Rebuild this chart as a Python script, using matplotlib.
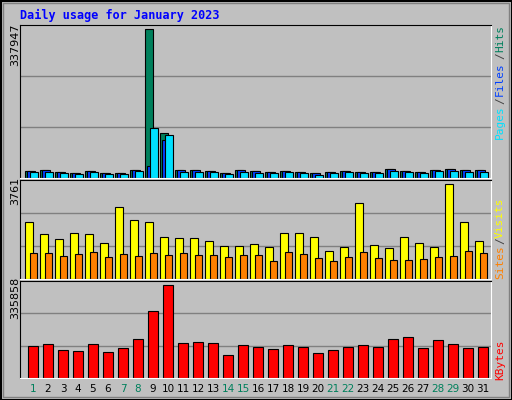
import matplotlib
matplotlib.use("Agg")
import matplotlib.pyplot as plt
from matplotlib.patches import Rectangle

days = list(range(1, 32))
hits = [16800,19100,14500,12200,16800,12200,12200,19100,337947,101700,19100,19100,16800,12200,19100,16800,
        14500,16800,14500,12200,14500,16800,14500,14500,21400,16800,14500,19100,21400,19100,19100]
files = [15000,17200,13000,11000,15000,11000,11000,17200,26800,85600,17200,17200,15000,11000,17200,15000,
         13000,15000,13000,11000,13000,15000,13000,13000,19300,15000,13000,17200,19300,17200,17200]
pages = [13000,14500,11500,9200,13000,8400,9200,16000,113200,97100,14500,14500,13000,8400,14500,11500,
         10700,13000,10700,7600,11500,13000,11500,11500,16800,13000,10700,16000,16800,14500,14500]
visits = [2260,1770,1570,1810,1770,1440,2830,2340,2260,1640,1600,1600,1520,1320,1320,1400,
          1280,1810,1810,1640,1110,1280,3000,1360,1240,1640,1440,1280,3761,2260,1520]
sites = [1030,1030,910,990,1070,870,990,910,1030,950,1030,950,950,870,950,950,
         710,1070,990,830,710,870,1070,830,750,750,790,870,910,1110,1030]
kbytes = [115000,122600,100500,96800,122600,93100,107800,140900,240100,335858,126300,129900,126300,82100,118700,111400,
          104100,118700,111400,89300,100500,111400,118700,111400,140900,148300,107800,137200,122600,107800,111400]
weekend = {1, 7, 8, 14, 15, 21, 22, 28, 29}

W, H = 512, 400
fig = plt.figure(figsize=(W/100, H/100), dpi=100)
fig.patch.set_facecolor("#C0C0C0")
fig.add_artist(Rectangle((0.5/W, 0.5/H), 1-1/W, 1-1/H, transform=fig.transFigure,
                         fill=False, edgecolor="black", lw=1.5))
fig.add_artist(Rectangle((3/W, 3/H), 1-6/W, 1-6/H, transform=fig.transFigure,
                         fill=False, edgecolor="#808080", lw=1))
mono = "DejaVu Sans Mono"
fig.text(20/W, 1-15/H, "Daily usage for January 2023", color="#0000FF", family=mono,
         weight="bold", fontsize=8.5, va="center")

x0 = 1 - 13/15
def mkax(top, bottom, ymax):
    ax = fig.add_axes([20/W, 1-bottom/H, (491-20)/W, (bottom-top)/H])
    ax.set_facecolor("#C0C0C0")
    ax.set_xlim(x0, x0 + 471/15)
    ax.set_ylim(0, ymax)
    for y in (ymax/3, 2*ymax/3):
        ax.axhline(y, color="#808080", lw=1, zorder=0)
    ax.set_xticks([]); ax.set_yticks([])
    ax.spines["left"].set_color("black"); ax.spines["top"].set_color("black")
    ax.spines["right"].set_color("white"); ax.spines["bottom"].set_color("white")
    return ax

u = 1/15
ax1 = mkax(25, 178, 346400)
ax1.bar([d - 4*u for d in days], hits, width=8*u, color="#00805C", edgecolor="black", lw=0.8)
ax1.bar([d - 2*u for d in days], files, width=8*u, color="#0040FF", edgecolor="black", lw=0.8)
ax1.bar([d + 0.5*u for d in days], pages, width=8*u, color="#00E0FF", edgecolor="black", lw=0.8)

ax2 = mkax(180, 279, 3911)
ax2.bar([d - 4*u for d in days], visits, width=8.5*u, color="#FFFF00", edgecolor="black", lw=0.8)
ax2.bar([d + 0.3*u for d in days], sites, width=7.5*u, color="#FF8000", edgecolor="black", lw=0.8)

ax3 = mkax(281, 378, 349350)
ax3.bar(days, kbytes, width=10*u, color="#FF0000", edgecolor="black", lw=0.8)

for d in days:
    ax3.text(d, -0.11, str(d), transform=ax3.get_xaxis_transform(), ha="center", va="center",
             fontsize=7.5, color="#00805C" if d in weekend else "black")

for txt, yc in (("337947", 45), ("3761", 191), ("335858", 298)):
    fig.text(15/W, 1-yc/H, txt, rotation=90, ha="center", va="center", fontsize=8)

def rlab(parts):
    for txt, yc, col in parts:
        fig.text(500/W, 1-yc/H, txt, rotation=90, ha="center", va="center",
                 family=mono, fontsize=8, color=col)

rlab([("Pages", 122, "#00E0FF"), ("/", 101, "#404040"), ("Files", 79, "#0040FF"),
      ("/", 56, "#404040"), ("Hits", 39, "#00805C")])
rlab([("Sites", 262, "#FF8000"), ("/", 241, "#404040"), ("Visits", 218, "#FFFF00")])
rlab([("KBytes", 360, "#FF0000")])

fig.savefig("out.png", dpi=100, facecolor=fig.get_facecolor())
